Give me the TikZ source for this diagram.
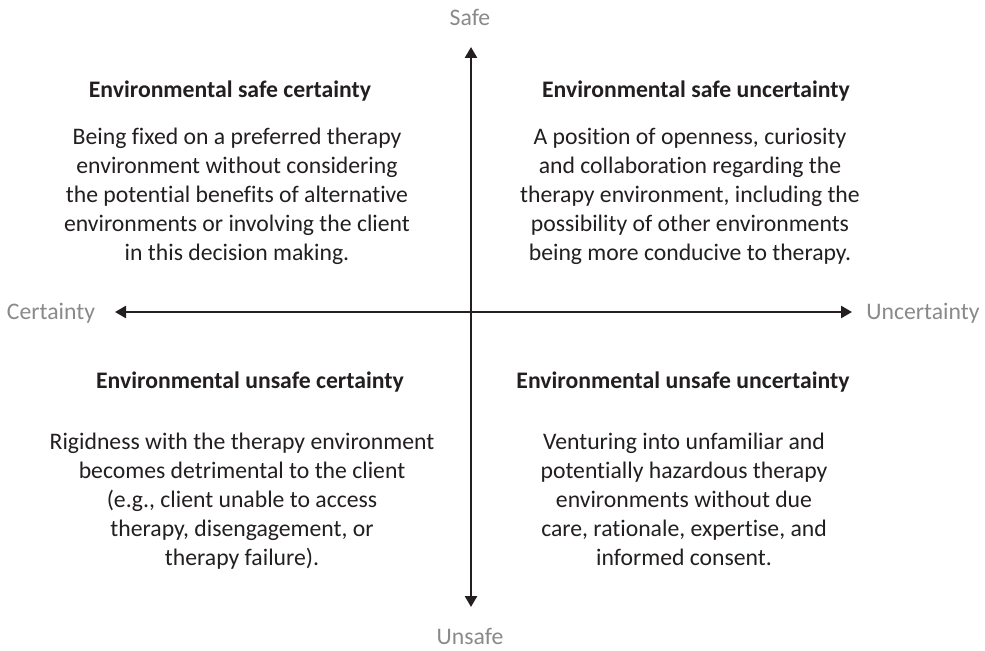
\documentclass[tikz,border=0pt]{standalone}
\usepackage{fontspec}
\setmainfont{Carlito}[Ligatures={NoCommon}]
\usetikzlibrary{arrows.meta}
\definecolor{axgray}{RGB}{138,138,140}
\definecolor{ink}{RGB}{35,31,32}
\begin{document}
\begin{tikzpicture}[x=1bp,y=-1bp,
  body/.style={align=center, inner sep=0pt, anchor=north, font=\fontsize{23.7bp}{29bp}\selectfont, text=ink},
  head/.style={inner sep=0pt, anchor=base, font=\fontsize{23.7bp}{29bp}\selectfont\bfseries, text=ink},
  axlab/.style={inner sep=0pt, anchor=base, font=\fontsize{23.7bp}{29bp}\selectfont, text=axgray},
  axisline/.style={line width=2.5bp, draw=ink, {Triangle[length=11bp,width=12bp]}-{Triangle[length=11bp,width=12bp]}}
]
\useasboundingbox (0,0) rectangle (985,651);
\fill[white] (0,0) rectangle (985,651);

\coordinate (ytop) at (471,47);
\coordinate (ybot) at (471,607);
\coordinate (xleft) at (115,312);
\coordinate (xright) at (852,312);
\draw[axisline] (ytop) -- (ybot);
\draw[axisline] (xleft) -- (xright);

\node[axlab] (safe) at (470,25.5) {Safe};
\node[axlab] (unsafe) at (470,644) {Unsafe};
\node[axlab] (cert) at (51,319.5) {Certainty};
\node[axlab] (uncert) at (923,319.5) {Uncertainty};

\node[head] (h1) at (230,98) {Environmental safe certainty};
\node[body] (b1) at (237,127.5) {Being fixed on a preferred therapy\\environment without considering\\the potential benefits of alternative\\environments or involving the client\\in this decision making.};

\node[head] (h2) at (696,98) {Environmental safe uncertainty};
\node[body] (b2) at (690,127.5) {A position of openness, curiosity\\and collaboration regarding the\\therapy environment, including the\\possibility of other environments\\being more conducive to therapy.};

\node[head] (h3) at (250,388) {Environmental unsafe certainty};
\node[body] (b3) at (242,432.5) {Rigidness with the therapy environment\\becomes detrimental to the client\\(e.g., client unable to access\\therapy, disengagement, or\\therapy failure).};

\node[head] (h4) at (683,388) {Environmental unsafe uncertainty};
\node[body] (b4) at (684,432.5) {Venturing into unfamiliar and\\potentially hazardous therapy\\environments without due\\care, rationale, expertise, and\\informed consent.};
\end{tikzpicture}
\end{document}
